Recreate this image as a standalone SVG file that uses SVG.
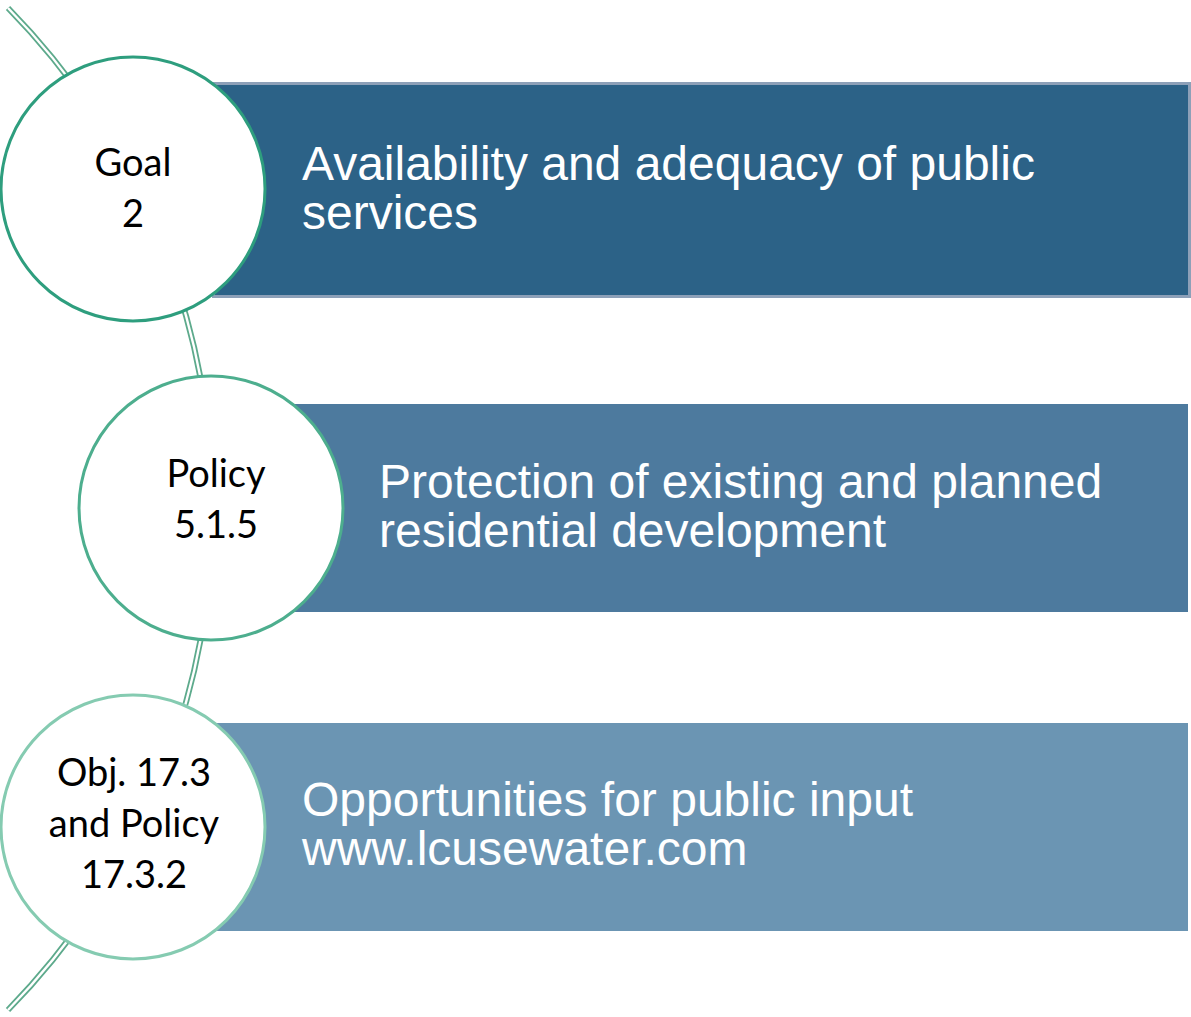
<svg xmlns="http://www.w3.org/2000/svg" width="1191" height="1017" viewBox="0 0 1191 1017">
<style>
.arcO{fill:none;stroke:#5DAA8C;stroke-width:6}
.arcI{fill:none;stroke:#ffffff;stroke-width:2.4}
.circ{fill:#ffffff;stroke-width:3}
.ct{font-family:Lato,"Open Sans","Liberation Sans",sans-serif;font-size:38px;fill:#000;text-anchor:middle}
.rt{font-family:"Liberation Sans",Arial,sans-serif;font-size:48px;fill:#ffffff}
</style>
<rect width="1191" height="1017" fill="#ffffff"/>
<g id="connectors">
<path class="arcO" d="M 8 8 A 716 716 0 0 1 8 1010"/>
<path class="arcI" d="M 8 8 A 716 716 0 0 1 8 1010"/>
</g>
<g id="bar1">
<rect x="213.5" y="83.5" width="976" height="213" fill="#2C6287" stroke="#8DA0B8" stroke-width="3"/>
<text class="rt" x="302" y="180">Availability and adequacy of public</text>
<text class="rt" x="302" y="229">services</text>
</g>
<g id="bar2">
<rect x="290" y="404" width="898" height="208" fill="#4D7A9E"/>
<text class="rt" x="379" y="498">Protection of existing and planned</text>
<text class="rt" x="379" y="547">residential development</text>
</g>
<g id="bar3">
<rect x="212" y="723" width="976" height="208" fill="#6B95B3"/>
<text class="rt" x="302" y="816">Opportunities for public input</text>
<text class="rt" x="302" y="865">www.lcusewater.com</text>
</g>
<g id="node1">
<circle class="circ" cx="133" cy="189" r="132" stroke="#2E9E7E"/>
<text class="ct" x="133" y="176">Goal</text>
<text class="ct" x="133" y="227">2</text>
</g>
<g id="node2">
<circle class="circ" cx="211" cy="508" r="132" stroke="#4DAE8E"/>
<text class="ct" x="216" y="487">Policy</text>
<text class="ct" x="216" y="538">5.1.5</text>
</g>
<g id="node3">
<circle class="circ" cx="133" cy="827" r="132" stroke="#85CBB1"/>
<text class="ct" x="134" y="786">Obj. 17.3</text>
<text class="ct" x="134" y="837">and Policy</text>
<text class="ct" x="134" y="888">17.3.2</text>
</g>
</svg>
